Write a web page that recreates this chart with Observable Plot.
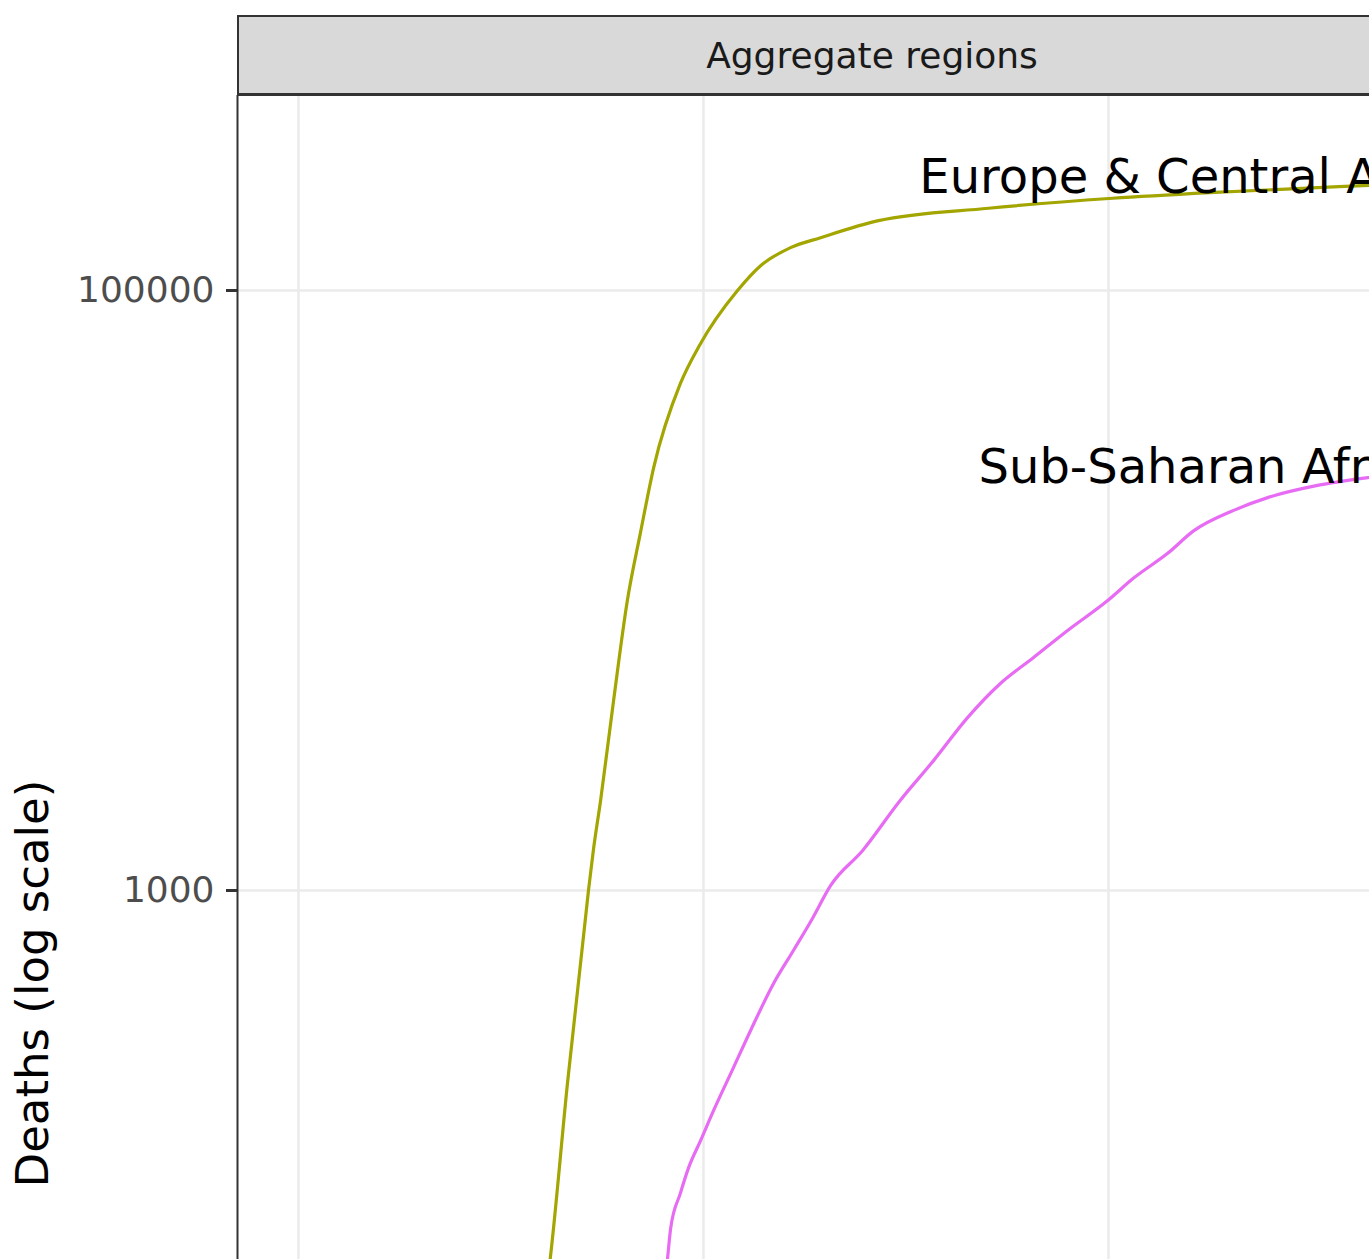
<!DOCTYPE html>
<html>
<head>
<meta charset="utf-8">
<script src="https://cdn.jsdelivr.net/npm/d3@7"></script>
<script src="https://cdn.jsdelivr.net/npm/@observablehq/plot@0.6"></script>
<style>
  html, body { margin: 0; padding: 0; background: #fff; overflow: hidden; }
  #wrap { position: relative; width: 1369px; height: 1259px; overflow: hidden; }
  #strip {
    position: absolute; left: 237px; top: 15px; width: 1266px; height: 76px;
    background: #d9d9d9; border: 2px solid #333; border-bottom-width: 3px;
    font-family: "DejaVu Sans", sans-serif; font-size: 36px; color: #1a1a1a;
    display: flex; align-items: center; justify-content: center; box-sizing: content-box;
  }
  #chart { position: absolute; left: 0; top: 0; }
</style>
</head>
<body>
<div id="wrap">
  <div id="chart"></div>
  <div id="strip">Aggregate regions</div>
</div>
<script>
// ---- data (x = day of 2020, y = cumulative deaths) ----
const stripTitle = "Aggregate regions";
const yTitle = "Deaths (log scale)";
const seriesNames = ["Europe & Central Asia", "Sub-Saharan Africa"];
const seriesColors = ["#A3A500", "#E76BF3"];

const ecaDays   = [52, 56, 60, 62.2, 66.4, 71.6, 72.8, 74.6, 77.8, 81.2, 84.4, 87.7, 94.3, 99, 108.4, 114.1, 121.5, 128.9, 143.2, 170.4, 201, 225, 264.4, 285];
const ecaDeaths = [6, 14, 35, 60, 227, 1000, 1360, 2000, 4300, 9260, 15500, 25700, 49000, 65600, 100000, 121000, 139000, 150000, 171000, 188000, 203000, 212000, 224000, 230000];

const ssaDays   = [80, 85, 88, 91.1, 91.9, 94.3, 96.3, 99.3, 102.5, 107.4, 111.6, 117.3, 122.2, 126.9, 131.4, 139.3, 148.6, 156.8, 165.2, 173.3, 181.5, 189.9, 199.8, 206.2, 214.6, 221, 230.9, 239.3, 251.6, 264, 285];
const ssaDeaths = [5, 14, 30, 59, 75, 98, 119, 147, 185, 257, 341, 490, 631, 807, 1040, 1360, 2000, 2710, 3770, 4900, 5980, 7360, 9260, 11000, 13300, 15800, 18500, 20400, 22400, 23800, 25500];

const labelDays   = [153.3, 167.9];
const labelDeaths = [238000, 25700];

const xGrid = [0, 100, 200];
const yTicks = [1000, 100000];
const xDomain = [-15.06, 264.44];
const yDomain = [58.9, 446700];

// ---- build tables ----
const rows = [
  ...ecaDays.map((d, i) => ({day: d, deaths: ecaDeaths[i], region: seriesNames[0]})),
  ...ssaDays.map((d, i) => ({day: d, deaths: ssaDeaths[i], region: seriesNames[1]}))
];
const labels = seriesNames.map((n, i) => ({region: n, day: labelDays[i], deaths: labelDeaths[i]}));

const chart = Plot.plot({
  width: 1369,
  height: 1259,
  marginTop: 95,
  marginLeft: 237,
  marginRight: 0,
  marginBottom: 0,
  style: {fontFamily: "DejaVu Sans, sans-serif", background: "white"},
  x: {domain: xDomain, axis: null},
  y: {type: "log", domain: yDomain, axis: null},
  color: {domain: seriesNames, range: seriesColors},
  marks: [
    Plot.gridX(xGrid, {stroke: "#ebebeb", strokeOpacity: 1, strokeWidth: 2.5}),
    Plot.gridY(yTicks, {stroke: "#ebebeb", strokeOpacity: 1, strokeWidth: 2.5}),
    Plot.line(rows, {x: "day", y: "deaths", z: "region", stroke: "region", strokeWidth: 3.2, curve: "monotone-x", clip: true}),
    Plot.text(labels, {x: "day", y: "deaths", text: "region", textAnchor: "start", lineAnchor: "middle", fontSize: 48, fill: "black", clip: false}),
    Plot.axisY(yTicks, {tickFormat: d => String(d), tickSize: 11, tickPadding: 12, fontSize: 36, color: "#4d4d4d", stroke: "#333", strokeWidth: 3, label: null}),
    Plot.ruleX([xDomain[0]], {stroke: "#333", strokeWidth: 2}),
    Plot.text([yTitle], {frameAnchor: "left", dx: -204, dy: 510, rotate: -90, fontSize: 45, fill: "black", text: d => d})
  ]
});
document.getElementById("chart").appendChild(chart);
</script>
</body>
</html>
